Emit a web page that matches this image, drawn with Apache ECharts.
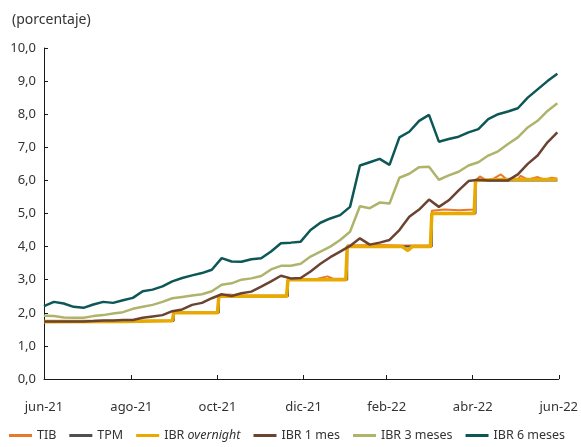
<!DOCTYPE html>
<html>
<head>
<meta charset="utf-8">
<script src="https://cdn.jsdelivr.net/npm/echarts@6/dist/echarts.min.js"></script>
<style>
  html, body { margin: 0; background: #fff; }
  #chart { width: 581px; height: 447px; }
</style>
</head>
<body>
<div id="chart"></div>
<script>
// fechas semanales (miércoles) para las curvas IBR a plazo
const semanas = [
  '2021-06-30', '2021-07-07', '2021-07-14', '2021-07-21', '2021-07-28', '2021-08-04', '2021-08-11',
  '2021-08-18', '2021-08-25', '2021-09-01', '2021-09-08', '2021-09-15', '2021-09-22', '2021-09-29',
  '2021-10-06', '2021-10-13', '2021-10-20', '2021-10-27', '2021-11-03', '2021-11-10', '2021-11-17',
  '2021-11-24', '2021-12-01', '2021-12-08', '2021-12-15', '2021-12-22', '2021-12-29', '2022-01-05',
  '2022-01-12', '2022-01-19', '2022-01-26', '2022-02-02', '2022-02-09', '2022-02-16', '2022-02-23',
  '2022-03-02', '2022-03-09', '2022-03-16', '2022-03-23', '2022-03-30', '2022-04-06', '2022-04-13',
  '2022-04-20', '2022-04-27', '2022-05-04', '2022-05-11', '2022-05-18', '2022-05-25', '2022-06-01',
  '2022-06-08', '2022-06-15', '2022-06-22', '2022-06-29'
];
const ibr6m = [
  2.2, 2.33, 2.28, 2.18, 2.15, 2.25, 2.33, 2.3, 2.38, 2.45, 2.65, 2.7, 2.8, 2.95,
  3.05, 3.13, 3.2, 3.3, 3.65, 3.55, 3.54, 3.62, 3.65, 3.85, 4.1, 4.12, 4.15, 4.5,
  4.72, 4.85, 4.95, 5.2, 6.45, 6.55, 6.65, 6.47, 7.3, 7.47, 7.8, 7.98, 7.17, 7.25,
  7.32, 7.45, 7.55, 7.85, 8.0, 8.08, 8.18, 8.5, 8.75, 9.0, 9.22
];
const ibr3m = [
  1.91, 1.9, 1.86, 1.85, 1.85, 1.9, 1.93, 1.98, 2.02, 2.12, 2.18, 2.24, 2.33, 2.44,
  2.48, 2.52, 2.56, 2.65, 2.85, 2.89, 3.0, 3.04, 3.11, 3.31, 3.42, 3.42, 3.48, 3.7,
  3.85, 4.0, 4.2, 4.45, 5.22, 5.16, 5.33, 5.3, 6.08, 6.2, 6.4, 6.41, 6.02, 6.15,
  6.26, 6.45, 6.55, 6.75, 6.88, 7.1, 7.3, 7.6, 7.8, 8.1, 8.33
];
const ibr1m = [
  1.74, 1.74, 1.74, 1.74, 1.74, 1.75, 1.77, 1.77, 1.78, 1.78, 1.85, 1.89, 1.93, 2.05,
  2.1, 2.24, 2.3, 2.44, 2.56, 2.51, 2.59, 2.64, 2.79, 2.95, 3.12, 3.04, 3.05, 3.25,
  3.48, 3.68, 3.85, 4.02, 4.25, 4.06, 4.12, 4.2, 4.5, 4.9, 5.12, 5.42, 5.2, 5.4,
  5.7, 5.98, 6.02, 6.0, 6.0, 6.0, 6.18, 6.5, 6.75, 7.15, 7.45
];

// TPM: fechas de cambio (escalones)
const tpmFechas = ['2021-06-30', '2021-09-30', '2021-11-01', '2021-12-20', '2022-01-31', '2022-04-01', '2022-05-02', '2022-06-29'];
const tpmValores = [1.75, 2.0, 2.5, 3.0, 4.0, 5.0, 6.0, 6.0];

// IBR overnight
const onFechas = [
  '2021-06-30', '2021-08-25', '2021-09-29', '2021-09-30', '2021-10-31', '2021-11-01', '2021-12-19',
  '2021-12-20', '2022-01-30', '2022-01-31', '2022-03-11', '2022-03-15', '2022-03-18', '2022-03-31',
  '2022-04-01', '2022-05-01', '2022-05-02', '2022-05-20', '2022-06-29'
];
const onValores = [1.73, 1.74, 1.76, 2.0, 2.0, 2.5, 2.5, 3.0, 3.0, 4.0, 4.0, 3.88, 4.0, 4.0, 5.0, 5.0, 6.0, 6.03, 6.03];

// TIB
const tibFechas = [
  '2021-06-30', '2021-09-29', '2021-09-30', '2021-10-31', '2021-11-01', '2021-11-08', '2021-11-15',
  '2021-12-19', '2021-12-20', '2022-01-10', '2022-01-17', '2022-01-21', '2022-01-30', '2022-01-31',
  '2022-02-20', '2022-03-10', '2022-03-31', '2022-04-01', '2022-04-10', '2022-04-20', '2022-05-01',
  '2022-05-02', '2022-05-05', '2022-05-10', '2022-05-15', '2022-05-20', '2022-05-25', '2022-06-01',
  '2022-06-03', '2022-06-08', '2022-06-15', '2022-06-20', '2022-06-25', '2022-06-29'
];
const tibValores = [
  1.76, 1.77, 2.02, 2.02, 2.52, 2.55, 2.52, 2.52, 3.02, 3.03, 3.1, 3.03, 3.03, 4.03,
  4.05, 4.03, 4.04, 5.08, 5.12, 5.1, 5.12, 6.0, 6.12, 6.0, 6.06, 6.18, 6.0, 6.04,
  6.14, 6.02, 6.1, 6.02, 6.08, 6.05
];

const marcasEje = ['2021-06-30', '2021-08-31', '2021-10-31', '2021-12-31', '2022-02-28', '2022-04-30', '2022-06-30'];
const etiquetasEje = ['jun-21', 'ago-21', 'oct-21', 'dic-21', 'feb-22', 'abr-22', 'jun-22'];

// el eje x cuenta días desde el inicio del eje
const inicio = Date.UTC(2021, 5, 30);
const dia = (d) => {
  const [y, m, dd] = d.split('-').map(Number);
  return Math.round((Date.UTC(y, m - 1, dd) - inicio) / 86400000);
};
const marcasDia = marcasEje.map(dia);
const pares = (fechas, valores) => fechas.map((f, i) => [dia(f), valores[i]]);

const fuente = 'Noto Sans';
const texto = '#333333';
const eje = '#1a1a1a';

const chart = echarts.init(document.getElementById('chart'));

function serie(name, data, color, width, extra) {
  return Object.assign({
    name,
    type: 'line',
    data,
    showSymbol: false,
    symbol: 'none',
    lineStyle: { color, width },
    itemStyle: { color },
  }, extra || {});
}

chart.setOption({
  animation: false,
  textStyle: { fontFamily: fuente },
  title: {
    text: '(porcentaje)',
    left: 7,
    top: 8,
    textStyle: { fontFamily: fuente, fontSize: 14, fontWeight: 'normal', color: texto },
  },
  grid: { left: 44, right: 19, top: 48, bottom: 68 },
  legend: {
    left: 9,
    top: 429,
    padding: 0,
    icon: 'rect',
    itemWidth: 23,
    itemHeight: 3,
    itemGap: 13,
    data: ['TIB', 'TPM', 'IBR overnight', 'IBR 1 mes', 'IBR 3 meses', 'IBR 6 meses'],
    formatter: (name) => name === 'IBR overnight' ? '{n|IBR }{i|overnight}' : name,
    textStyle: {
      fontFamily: fuente,
      fontSize: 12.5,
      color: texto,
      rich: {
        n: { fontFamily: fuente, fontSize: 12.5, color: texto },
        i: { fontFamily: fuente, fontSize: 12.5, color: texto, fontStyle: 'italic' },
      },
    },
  },
  xAxis: {
    type: 'value',
    min: marcasDia[0],
    max: marcasDia[marcasDia.length - 1],
    axisLine: { lineStyle: { color: eje, width: 1 } },
    axisTick: { show: true, inside: true, length: 4, customValues: marcasDia, lineStyle: { color: eje } },
    axisLabel: {
      customValues: marcasDia,
      margin: 22,
      color: texto,
      fontSize: 13,
      fontFamily: fuente,
      formatter: (v) => {
        const i = marcasDia.indexOf(Math.round(v));
        return i >= 0 ? etiquetasEje[i] : '';
      },
    },
    splitLine: { show: false },
  },
  yAxis: {
    type: 'value',
    min: 0,
    max: 10,
    interval: 1,
    axisLine: { show: true, lineStyle: { color: eje, width: 1 } },
    axisTick: { show: true, inside: true, length: 4, lineStyle: { color: eje } },
    axisLabel: {
      margin: 8,
      color: texto,
      fontSize: 13,
      fontFamily: fuente,
      formatter: (v) => v.toFixed(1).replace('.', ','),
    },
    splitLine: { show: false },
  },
  series: [
    serie('TIB', pares(tibFechas, tibValores), '#E9782C', 2),
    serie('TPM', pares(tpmFechas, tpmValores), '#4F4F4F', 2, { step: 'end' }),
    serie('IBR overnight', pares(onFechas, onValores), '#E8A900', 3.5),
    serie('IBR 1 mes', pares(semanas, ibr1m), '#6B4333', 2.5),
    serie('IBR 3 meses', pares(semanas, ibr3m), '#AEB46C', 2.5),
    serie('IBR 6 meses', pares(semanas, ibr6m), '#0D5756', 2.5),
  ],
});
</script>
</body>
</html>
